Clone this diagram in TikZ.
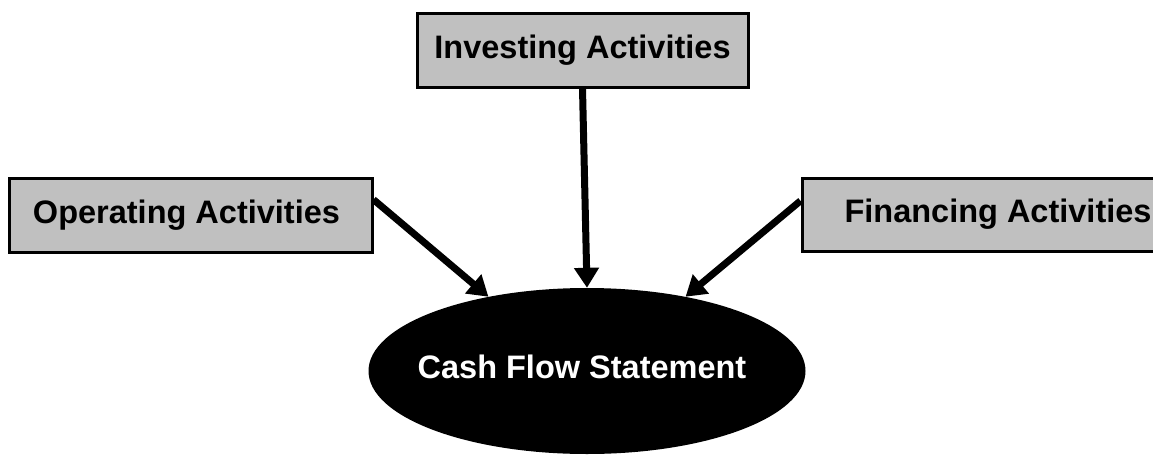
\documentclass[tikz,border=0pt]{standalone}
\usepackage{fontspec}
\setmainfont{Liberation Sans}
\usetikzlibrary{shapes.geometric,arrows.meta,calc}
\definecolor{boxgray}{HTML}{C0C0C0}
\begin{document}
\begin{tikzpicture}[x=1pt,y=-1pt,
  actbox/.style={draw=black,line width=3pt,fill=boxgray,rectangle,inner sep=0pt,
     font=\fontsize{32.5}{32.5}\selectfont\bfseries},
  flow/.style={line width=7pt,-{Triangle[length=20pt,width=24pt]}}]
\useasboundingbox (0,0) rectangle (1153,455);
\begin{scope}
\clip (0,0) rectangle (1153,455);
\node[actbox,minimum width=331pt,minimum height=74pt] (inv) at (582.5,50) {Investing Activities};
\node[actbox,minimum width=363pt,minimum height=74pt] (op) at (190.5,215) {\hspace{-8pt}Operating Activities};
\node[actbox,minimum width=392pt,minimum height=73pt] (fin) at (998,214.5) {Financing Activities};
\node[ellipse,fill=black,minimum width=437pt,minimum height=166pt,inner sep=0pt] (cfs) at (587,371) {};
\node[text=white,inner sep=0pt,font=\fontsize{32.5}{32.5}\selectfont\bfseries] (cfstext) at (582,367) {Cash Flow Statement};
\draw[flow] (inv.south) -- (cfs.north);
\draw[flow] ($(op.north east)!0.3!(op.south east)$) -- (cfs.143);
\draw[flow] ($(fin.north west)!0.32!(fin.south west)$) -- (cfs.37.5);
\end{scope}
\end{tikzpicture}
\end{document}
